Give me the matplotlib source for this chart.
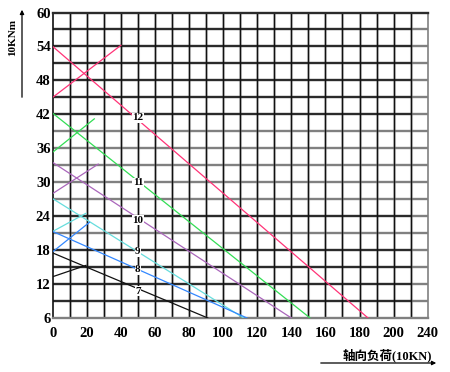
import numpy as np
import matplotlib.pyplot as plt

plt.rcParams['font.family'] = ['Liberation Serif', 'Noto Sans CJK SC']

# size curves: main falling line and the short rising line at the left
sizes = ['12', '11', '10', '9', '8', '7']
main_x = [[0, 185], [0, 151], [0, 140], [0, 112], [0, 114], [0, 91]]
main_y = [[54, 6], [42.2, 6], [33.5, 6], [27.1, 6], [21.3, 6], [17.5, 6]]
cross_x = [[0, 40], [0, 24.4], [0, 26.7], [0, 19.5], [0, 21.5], [0, 19.5]]
cross_y = [[45, 54.2], [35.3, 41.2], [28, 33.2], [21.3, 24.5], [17.7, 22.9], [13.3, 15.3]]
label_x = 50
label_y = [41.4, 29.9, 23.3, 17.7, 14.5, 10.7]

xtick_pos = [0, 20, 40, 60, 80, 100, 120, 140, 160, 180, 200, 220]
xtick_labels = ['0', '20', '40', '60', '80', '100', '120', '140', '160', '180', '200', '240']
yticks = np.arange(6, 61, 6)
hline_y = np.arange(9, 60, 3)
hline_dark = [1, 1, 1, 1, 0, 1, 0, 0, 0, 0, 0, 1, 1, 1, 1, 1, 1]

colors = ['#ff3377', '#33dd55', '#aa66bb', '#66dddd', '#3388ff', '#111111']
dark, gray = '#2b2b2b', '#808080'

fig = plt.figure(figsize=(4.5, 3.72), dpi=100)
ax = fig.add_axes([52.7/450, 1-318/372, 375/450, 305.5/372])
ax.set_xlim(0, 220)
ax.set_ylim(6, 60)

# grid
for x in range(10, 220, 10):
    ax.axvline(x, color='#d0d0d0', lw=2.2, zorder=1)
    ax.axvline(x, color='#111111', lw=1.0, zorder=1.2)
for y, d in zip(hline_y, hline_dark):
    ax.hlines(y, 0, 210, color=dark if d else gray, lw=1.7, zorder=1.1)
    ax.hlines(y, 210, 220, color=gray, lw=1.7, zorder=1.1)

for s in ['left', 'top', 'bottom', 'right']:
    ax.spines[s].set_linewidth(1.7)
ax.spines['left'].set_color('#111111')
ax.spines['left'].set_linewidth(1.2)
ax.spines['top'].set_color(dark)
ax.spines['bottom'].set_color(gray)
ax.spines['right'].set_color(gray)
ax.spines['right'].set_linewidth(1.2)

# curves
for i, s in enumerate(sizes):
    ax.plot(main_x[i], main_y[i], color=colors[i], lw=0.9, zorder=3)
    ax.plot(cross_x[i], cross_y[i], color=colors[i], lw=0.9, zorder=3)
    ax.text(label_x, label_y[i], s, ha='center', va='center', fontsize=8,
            fontweight='bold', zorder=4,
            bbox=dict(facecolor='white', edgecolor='none', pad=0.3))

ax.set_xticks(xtick_pos)
ax.set_xticklabels(xtick_labels)
ax.set_yticks(yticks)
ax.tick_params(axis='both', length=0, labelsize=10.5)
ax.tick_params(axis='x', pad=6.5)
ax.tick_params(axis='y', pad=1.5)
for lab in ax.get_xticklabels() + ax.get_yticklabels():
    lab.set_fontweight('bold')

# axis titles with arrows
fig.text(13/450, 1-37/372, '10KNm', rotation=90, ha='center', va='center',
         fontsize=8, fontweight='bold')
ax.annotate('', xy=(22/450, 1-7/372), xytext=(22/450, 1-100/372),
            xycoords='figure fraction',
            arrowprops=dict(arrowstyle='-|>', color='black', lw=0.9, mutation_scale=6))
fig.text(432/450, 1-355/372, '轴向负荷(10KN)', ha='right', va='center',
         fontsize=9, fontweight='bold')
ax.annotate('', xy=(439/450, 1-363/372), xytext=(318/450, 1-363/372),
            xycoords='figure fraction',
            arrowprops=dict(arrowstyle='-|>', color='black', lw=0.9, mutation_scale=6))

plt.savefig('out.png', dpi=100)
